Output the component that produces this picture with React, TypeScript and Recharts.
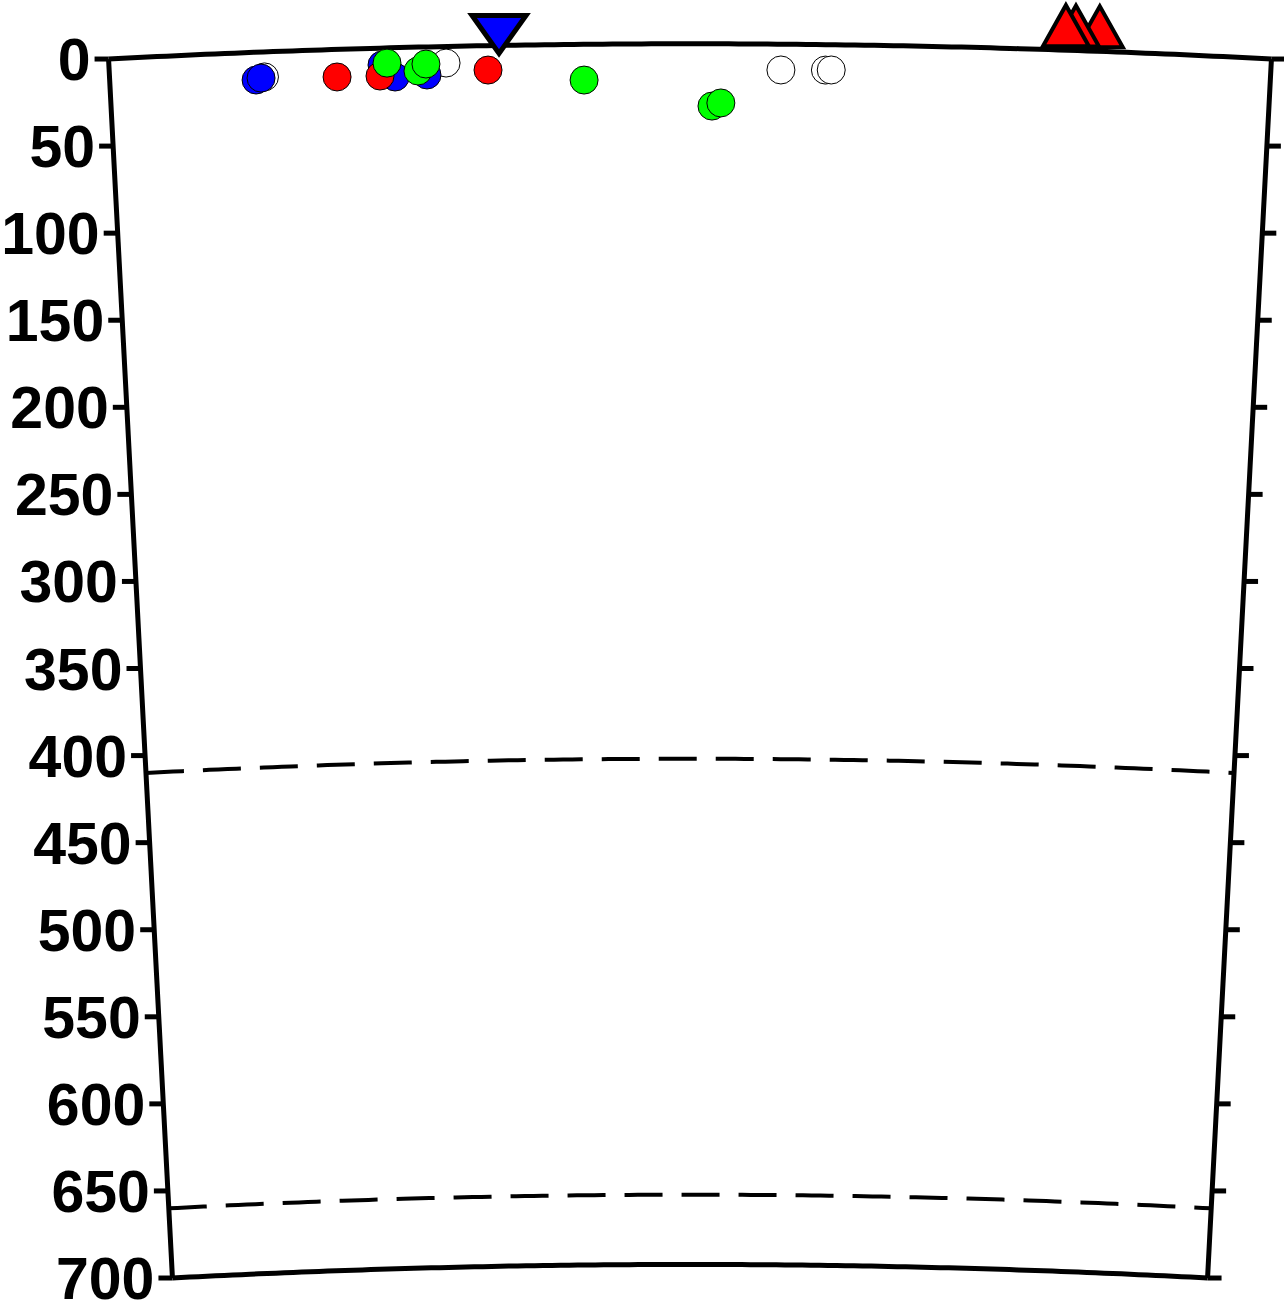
import React from 'react';
import { ScatterChart, Scatter, XAxis, YAxis, ReferenceLine } from 'recharts';

// ---- data (angle along profile in degrees, depth in km) ----
const DEPTH_TICKS = [0, 50, 100, 150, 200, 250, 300, 350, 400, 450, 500, 550, 600, 650, 700];
const DISCONTINUITIES = [410, 660];

const whiteEvents = [
  { angle: 0.8, depth: 14.3 },
  { angle: 1.74, depth: 9.5 },
  { angle: 3.47, depth: 14.8 },
  { angle: 3.7, depth: 14.6 },
  { angle: 3.73, depth: 14.5 },
];
const blueEvents = [
  { angle: 0.756, depth: 15.9 },
  { angle: 0.782, depth: 14.9 },
  { angle: 1.409, depth: 9.7 },
  { angle: 1.475, depth: 16.8 },
  { angle: 1.64, depth: 16.1 },
];
const redEvents = [
  { angle: 1.175, depth: 15.8 },
  { angle: 1.397, depth: 16.0 },
  { angle: 1.956, depth: 14.0 },
];
const greenEvents = [
  { angle: 1.435, depth: 8.7 },
  { angle: 1.594, depth: 13.7 },
  { angle: 1.636, depth: 9.8 },
  { angle: 2.452, depth: 20.5 },
  { angle: 3.114, depth: 35.7 },
  { angle: 3.16, depth: 33.9 },
];
const blueStations = [{ angle: 2.015, depth: 0 }];
const redStations = [
  { angle: 5.114, depth: 0 },
  { angle: 4.991, depth: 0 },
  { angle: 4.939, depth: 0 },
];

// ---- projection of the cartesian plot area onto an Earth cross-section ----
const ANGLE_SPAN = 6;
const MAX_DEPTH = 700;
const PX_PER_KM = 1.7438;
const R_PX = 6371 * PX_PER_KM;
const PLOT = { left: 108, top: 43.8, width: 1164, height: MAX_DEPTH * PX_PER_KM };
const CW = 1284;
const CH = 1305;
const CX = PLOT.left + PLOT.width / 2;
const CY = PLOT.top + R_PX;

function warp(px: number, py: number): [number, number] {
  const t = (px - PLOT.left) / PLOT.width;
  const th = ((t - 0.5) * ANGLE_SPAN * Math.PI) / 180;
  const r = R_PX - (py - PLOT.top);
  return [CX + r * Math.sin(th), CY - r * Math.cos(th)];
}

function warpedPath(x1: number, y1: number, x2: number, y2: number) {
  const n = 120;
  let d = '';
  for (let i = 0; i <= n; i++) {
    const px = x1 + ((x2 - x1) * i) / n;
    const py = y1 + ((y2 - y1) * i) / n;
    const [X, Y] = warp(px, py);
    d += (i === 0 ? 'M' : 'L') + X.toFixed(2) + ',' + Y.toFixed(2);
  }
  return d;
}

const FrameShape = (props: any) => {
  const { x1, y1, x2, y2, stroke, strokeWidth, strokeDasharray } = props;
  return (
    <path
      d={warpedPath(x1, y1, x2, y2)}
      fill="none"
      stroke={stroke}
      strokeWidth={strokeWidth}
      strokeDasharray={strokeDasharray}
      strokeLinejoin="round"
    />
  );
};

const FONT = '"Liberation Sans", Arial, Helvetica, sans-serif';

const LeftTick = (props: any) => {
  const { y, payload } = props;
  const [ex, ey] = warp(PLOT.left, y);
  return (
    <g>
      <line x1={ex - 14} y1={ey} x2={ex} y2={ey} stroke="#000" strokeWidth={5} />
      <text
        x={ex - 18}
        y={ey}
        dy={21}
        textAnchor="end"
        fontFamily={FONT}
        fontWeight="bold"
        fontSize={59}
        fill="#000"
      >
        {payload.value}
      </text>
    </g>
  );
};

const RightTick = (props: any) => {
  const { y } = props;
  const [ex, ey] = warp(PLOT.left + PLOT.width, y);
  return <line x1={ex} y1={ey} x2={ex + 14} y2={ey} stroke="#000" strokeWidth={5} />;
};

function center(props: any): [number, number] {
  const cx = props.cx ?? props.x + (props.width || 0) / 2;
  const cy = props.cy ?? props.y + (props.height || 0) / 2;
  return warp(cx, cy);
}

const makeCircle = (fill: string) => (props: any) => {
  const [X, Y] = center(props);
  return <circle cx={X} cy={Y} r={14} fill={fill} stroke="#000" strokeWidth={1} />;
};

const DownTriangle = (props: any) => {
  const [X, Y] = center(props);
  const d = `M${X - 27},${Y - 30} L${X + 27},${Y - 30} L${X},${Y + 8} Z`;
  return <path d={d} fill="#0000ff" stroke="#000" strokeWidth={5} strokeLinejoin="miter" />;
};

const UpTriangle = (props: any) => {
  const [X, Y] = center(props);
  const d = `M${X - 23},${Y - 4} L${X + 23},${Y - 4} L${X},${Y - 45} Z`;
  return <path d={d} fill="#ff0000" stroke="#000" strokeWidth={4} strokeLinejoin="miter" />;
};

export default function App() {
  return (
    <div style={{ position: 'absolute', left: 0, top: 0, width: CW, height: CH, background: '#fff' }}>
      <ScatterChart
        width={CW}
        height={CH}
        margin={{
          top: PLOT.top,
          left: PLOT.left - 1,
          right: CW - PLOT.left - PLOT.width - 1,
          bottom: CH - PLOT.top - PLOT.height,
        }}
      >
        <XAxis type="number" dataKey="angle" domain={[0, ANGLE_SPAN]} hide />
        <YAxis
          yAxisId="left"
          type="number"
          dataKey="depth"
          domain={[0, MAX_DEPTH]}
          reversed
          ticks={DEPTH_TICKS}
          interval={0}
          width={1}
          axisLine={false}
          tickLine={false}
          tick={<LeftTick />}
        />
        <YAxis
          yAxisId="right"
          orientation="right"
          type="number"
          domain={[0, MAX_DEPTH]}
          reversed
          ticks={DEPTH_TICKS}
          interval={0}
          width={1}
          axisLine={false}
          tickLine={false}
          tick={<RightTick />}
          allowDataOverflow
        />
        <ReferenceLine yAxisId="left" y={0} stroke="#000" strokeWidth={5} shape={<FrameShape />} />
        <ReferenceLine yAxisId="left" y={MAX_DEPTH} stroke="#000" strokeWidth={5} shape={<FrameShape />} />
        <ReferenceLine yAxisId="left" x={0} stroke="#000" strokeWidth={5} shape={<FrameShape />} />
        <ReferenceLine yAxisId="left" x={ANGLE_SPAN} stroke="#000" strokeWidth={5} shape={<FrameShape />} />
        {DISCONTINUITIES.map((d) => (
          <ReferenceLine
            key={d}
            yAxisId="left"
            y={d}
            stroke="#000"
            strokeWidth={4}
            strokeDasharray="38 19"
            shape={<FrameShape />}
          />
        ))}
        <Scatter yAxisId="left" data={whiteEvents} isAnimationActive={false} shape={makeCircle('#ffffff')} />
        <Scatter yAxisId="left" data={blueEvents} isAnimationActive={false} shape={makeCircle('#0000ff')} />
        <Scatter yAxisId="left" data={redEvents} isAnimationActive={false} shape={makeCircle('#ff0000')} />
        <Scatter yAxisId="left" data={greenEvents} isAnimationActive={false} shape={makeCircle('#00ff00')} />
        <Scatter yAxisId="left" data={blueStations} isAnimationActive={false} shape={DownTriangle} />
        <Scatter yAxisId="left" data={redStations} isAnimationActive={false} shape={UpTriangle} />
      </ScatterChart>
    </div>
  );
}
